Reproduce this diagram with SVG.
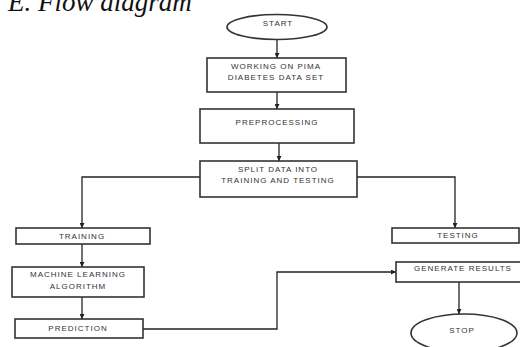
<svg xmlns="http://www.w3.org/2000/svg" width="520" height="347" viewBox="0 0 520 347">
<defs>
<marker id="ah" viewBox="0 0 10 10" refX="10" refY="5" markerWidth="5" markerHeight="5" orient="auto" markerUnits="userSpaceOnUse">
<path d="M0,0 L10,5 L0,10 z" fill="#222"/>
</marker>
<style>
.box{fill:#fff;stroke:#333;stroke-width:1.6}
.t{font-family:"Liberation Sans","DejaVu Sans",sans-serif;font-size:8px;letter-spacing:1px;fill:#333;text-anchor:middle}
.c{fill:none;stroke:#222;stroke-width:1.3}
.title{font-family:"Liberation Serif","Times New Roman",serif;font-style:italic;font-size:27px;fill:#111}
</style>
</defs>
<rect width="520" height="347" fill="#fff"/>
<text class="title" x="8" y="11">E. Flow diagram</text>
<g id="connectors">
<path class="c" d="M277,40 V58" marker-end="url(#ah)"/>
<path class="c" d="M277,92 V109" marker-end="url(#ah)"/>
<path class="c" d="M279,143 V161" marker-end="url(#ah)"/>
<path class="c" d="M200,177 H82 V228" marker-end="url(#ah)"/>
<path class="c" d="M357,177 H455 V228" marker-end="url(#ah)"/>
<path class="c" d="M82,244 V267" marker-end="url(#ah)"/>
<path class="c" d="M82,297 V319" marker-end="url(#ah)"/>
<path class="c" d="M143,329 H277 V272 H396" marker-end="url(#ah)"/>
<path class="c" d="M459,282 V314" marker-end="url(#ah)"/>
</g>
<g id="start">
<ellipse class="box" cx="277" cy="27" rx="50" ry="12.5"/>
<text class="t" x="278" y="26">START</text>
</g>
<g id="working">
<rect class="box" x="207" y="58" width="139" height="34"/>
<text class="t" x="276" y="69">WORKING ON PIMA</text>
<text class="t" x="276" y="80">DIABETES DATA SET</text>
</g>
<g id="preprocessing">
<rect class="box" x="200" y="109" width="154" height="34"/>
<text class="t" x="277" y="125">PREPROCESSING</text>
</g>
<g id="split">
<rect class="box" x="200" y="161" width="157" height="36"/>
<text class="t" x="278" y="172">SPLIT DATA INTO</text>
<text class="t" x="278" y="183">TRAINING AND TESTING</text>
</g>
<g id="training">
<rect class="box" x="16" y="228" width="134" height="16"/>
<text class="t" x="82" y="239">TRAINING</text>
</g>
<g id="testing">
<rect class="box" x="392" y="228" width="127" height="15"/>
<text class="t" x="458" y="238">TESTING</text>
</g>
<g id="ml">
<rect class="box" x="12" y="267" width="132" height="30"/>
<text class="t" x="78" y="277">MACHINE LEARNING</text>
<text class="t" x="78" y="289">ALGORITHM</text>
</g>
<g id="prediction">
<rect class="box" x="15" y="319" width="128" height="19"/>
<text class="t" x="78" y="331">PREDICTION</text>
</g>
<g id="generate">
<rect class="box" x="396" y="262" width="126" height="20"/>
<text class="t" x="463" y="271">GENERATE RESULTS</text>
</g>
<g id="stop">
<ellipse class="box" cx="464" cy="333" rx="53" ry="19"/>
<text class="t" x="462" y="333">STOP</text>
</g>
</svg>
